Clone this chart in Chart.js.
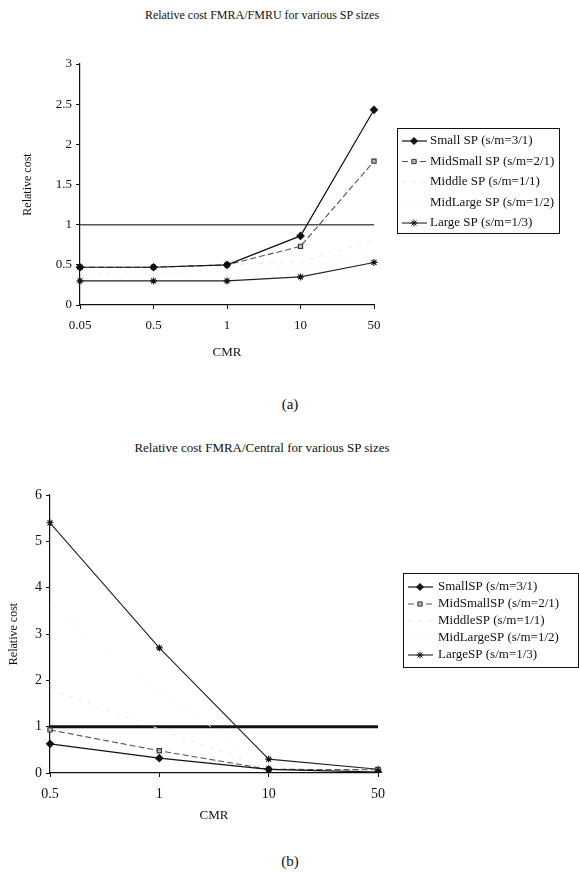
<!DOCTYPE html>
<html>
<head>
<meta charset="utf-8">
<script src="https://cdn.jsdelivr.net/npm/chart.js@4.4.0/dist/chart.umd.min.js"></script>
<style>
body { margin: 0; background: #fff; width: 579px; height: 887px; position: relative; overflow: hidden; font-family: "Liberation Serif", serif; color: #111; }
.ttl { position: absolute; left: 0; width: 524px; text-align: center; font-size: 12px; }
.cap { position: absolute; left: 270px; width: 40px; text-align: center; font-size: 15px; }
canvas { position: absolute; left: 0; }
</style>
</head>
<body>
<div class="ttl" style="top:8px">Relative cost FMRA/FMRU for various SP sizes</div>
<canvas id="chartA" width="579" height="350" style="top:30px"></canvas>
<div class="cap" style="top:396px">(a)</div>
<div class="ttl" style="top:440px;font-size:13px">Relative cost FMRA/Central for various SP sizes</div>
<canvas id="chartB" width="579" height="370" style="top:465px"></canvas>
<div class="cap" style="top:853px">(b)</div>
<script>
// ============================
// DATA (a) FMRA/FMRU
// ============================
const cmrA = ["0.05", "0.5", "1", "10", "50"];
const smallA = [0.47, 0.47, 0.5, 0.86, 2.43];
const midSmallA = [0.47, 0.47, 0.5, 0.73, 1.79];
const middleA = [0.47, 0.47, 0.5, 0.54, 0.8];
const midLargeA = [0.4, 0.4, 0.42, 0.45, 0.65];
const largeA = [0.3, 0.3, 0.3, 0.35, 0.53];
const refA = [1, 1, 1, 1, 1];
const namesA = ["Small SP (s/m=3/1)", "MidSmall SP (s/m=2/1)", "Middle SP (s/m=1/1)", "MidLarge SP (s/m=1/2)", "Large SP (s/m=1/3)"];

// ============================
// DATA (b) FMRA/Central
// ============================
const cmrB = ["0.5", "1", "10", "50"];
const smallB = [0.63, 0.32, 0.08, 0.02];
const midSmallB = [0.93, 0.48, 0.08, 0.07];
const middleB = [1.8, 0.95, 0.09, 0.04];
const midLargeB = [3.6, 1.8, 0.1, 0.05];
const largeB = [5.4, 2.7, 0.3, 0.08];
const refB = [1, 1, 1, 1];
const namesB = ["SmallSP (s/m=3/1)", "MidSmallSP (s/m=2/1)", "MiddleSP (s/m=1/1)", "MidLargeSP (s/m=1/2)", "LargeSP (s/m=1/3)"];

const ink = "#111";

// boxed legend drawn next to the plot
const boxLegend = {
    id: "boxLegend",
    afterDraw(chart, args, opts) {
        const ctx = chart.ctx;
        const sets = chart.data.datasets.filter(d => d.label);
        ctx.save();
        ctx.strokeStyle = ink;
        ctx.lineWidth = 1;
        ctx.strokeRect(opts.x + 0.5, opts.y + 0.5, opts.w, opts.h);
        ctx.font = opts.font;
        ctx.textBaseline = "middle";
        sets.forEach((d, i) => {
            const cy = opts.y + opts.first + i * opts.step;
            ctx.strokeStyle = d.borderColor;
            ctx.lineWidth = d.borderWidth;
            ctx.setLineDash(d.borderDash || []);
            ctx.beginPath();
            ctx.moveTo(opts.x + 5, cy);
            ctx.lineTo(opts.x + 30, cy);
            ctx.stroke();
            ctx.setLineDash([]);
            if (d.pointRadius > 0) {
                ctx.fillStyle = d.pointBackgroundColor;
                ctx.strokeStyle = d.pointBorderColor;
                ctx.lineWidth = 1;
                Chart.helpers.drawPoint(ctx, { pointStyle: d.pointStyle, radius: d.pointRadius, borderWidth: 1 }, opts.x + 17, cy);
            }
            ctx.fillStyle = ink;
            ctx.fillText(d.label, opts.x + opts.textX, cy);
        });
        ctx.restore();
    }
};

function series(names, vals, refVals, refWidth, refColor) {
    return [
        { label: names[0], data: vals[0], borderColor: ink, borderWidth: 1.2, pointStyle: "rectRot", pointRadius: 3.5, pointBackgroundColor: ink, pointBorderColor: ink },
        { label: names[1], data: vals[1], borderColor: "#555", borderWidth: 1.1, borderDash: [6, 3], pointStyle: "rect", pointRadius: 3, pointBackgroundColor: "#bbb", pointBorderColor: "#333" },
        { label: names[2], data: vals[2], borderColor: "#ececec", borderWidth: 1, borderDash: [4, 6], pointRadius: 0 },
        { label: names[3], data: vals[3], borderColor: "#f5f5f5", borderWidth: 1, borderDash: [3, 6], pointRadius: 0 },
        { label: names[4], data: vals[4], borderColor: "#222", borderWidth: 1.1, pointStyle: "star", pointRadius: 3.5, pointBackgroundColor: ink, pointBorderColor: ink },
        { data: refVals, borderColor: refColor, borderWidth: refWidth, pointRadius: 0 }
    ];
}

function axes(yMax, yStep, yWidth, xHeight, fontSize, yTitlePad, xTitlePad) {
    const f = { family: "'Liberation Serif', serif", size: fontSize };
    return {
        x: {
            offset: false,
            border: { color: ink, width: 1.2 },
            grid: { drawOnChartArea: false, color: ink, tickLength: 4 },
            ticks: { color: ink, font: f, padding: 9, maxRotation: 0, autoSkip: false },
            title: { display: true, text: "CMR", color: ink, font: { family: "'Liberation Serif', serif", size: 13 }, padding: { bottom: xTitlePad } },
            afterFit: s => { s.height = xHeight; }
        },
        y: {
            min: 0,
            max: yMax,
            border: { color: ink, width: 1.2 },
            grid: { drawOnChartArea: false, color: ink, tickLength: 4 },
            ticks: { stepSize: yStep, color: ink, font: f, padding: 4, callback: v => String(v) },
            title: { display: true, text: "Relative cost", color: ink, font: { family: "'Liberation Serif', serif", size: 12 }, padding: { top: yTitlePad, bottom: 0 } },
            afterFit: s => { s.width = yWidth; }
        }
    };
}

// ============================
// CHART (a)
// ============================
new Chart(document.getElementById("chartA"), {
    type: "line",
    data: {
        labels: cmrA,
        datasets: series(namesA, [smallA, midSmallA, middleA, midLargeA, largeA], refA, 1.5, "#555")
    },
    options: {
        responsive: false,
        animation: false,
        layout: { padding: { top: 34, right: 205, left: 0, bottom: 0 } },
        plugins: {
            legend: { display: false },
            tooltip: { enabled: false },
            boxLegend: { x: 397, y: 98, w: 162, h: 105, first: 13, step: 20.5, textX: 33, font: "13px 'Liberation Serif', serif" }
        },
        scales: axes(3, 0.5, 80, 75, 13, 21, 20)
    },
    plugins: [boxLegend]
});

// ============================
// CHART (b)
// ============================
new Chart(document.getElementById("chartB"), {
    type: "line",
    data: {
        labels: cmrB,
        datasets: series(namesB, [smallB, midSmallB, middleB, midLargeB, largeB], refB, 3, ink)
    },
    options: {
        responsive: false,
        animation: false,
        layout: { padding: { top: 30, right: 201, left: 0, bottom: 0 } },
        plugins: {
            legend: { display: false },
            tooltip: { enabled: false },
            boxLegend: { x: 403, y: 108, w: 175, h: 94, first: 14, step: 17, textX: 35, font: "13px 'Liberation Serif', serif" }
        },
        scales: axes(6, 1, 50, 62, 14, 7, 12)
    },
    plugins: [boxLegend]
});
</script>
</body>
</html>
